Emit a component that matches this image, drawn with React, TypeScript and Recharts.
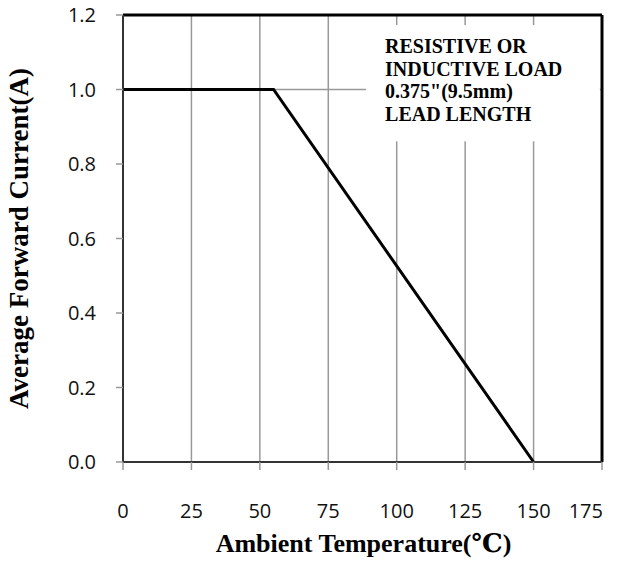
import React from "react";
import {
  ComposedChart,
  Line,
  XAxis,
  YAxis,
  CartesianGrid,
  ReferenceLine,
  ReferenceArea,
} from "recharts";

const temperature = [0, 55, 150];
const current = [1.0, 1.0, 0.0];
const xTicks = [0, 25, 50, 75, 100, 125, 150, 175];
const yTicks = [0, 0.2, 0.4, 0.6, 0.8, 1.0, 1.2];
const noteLines = ["RESISTIVE OR", "INDUCTIVE LOAD", "0.375\"(9.5mm)", "LEAD LENGTH"];
const xTitle = "Ambient Temperature(℃)";
const yTitle = "Average Forward Current(A)";

const data = temperature.map((t, i) => ({ t, a: current[i] }));

const noteLeft = 88.8;
const tickFont = "'Open Sans', 'DejaVu Sans', sans-serif";
const titleFont = "'Liberation Serif', 'DejaVu Serif', serif";

const XTick = (props: any) => {
  const { x, y, payload, index } = props;
  const last = index === xTicks.length - 1;
  return (
    <text
      x={last ? x + 1 : x}
      y={y + 46}
      textAnchor={last ? "end" : "middle"}
      fontFamily={tickFont}
      fontSize={20}
      fill="#111"
    >
      {payload.value}
    </text>
  );
};

const YTick = (props: any) => {
  const { x, y, payload } = props;
  return (
    <text x={x - 18} y={y} dy={7} textAnchor="end" fontFamily={tickFont} fontSize={20} fill="#111">
      {Number(payload.value).toFixed(1)}
    </text>
  );
};

const NoteBox = (props: any) => {
  const { x, y, width, height } = props;
  return (
    <g>
      <rect x={x} y={y} width={width} height={height} fill="#fff" stroke="none" />
      {noteLines.map((s, i) => (
        <text
          key={i}
          x={x + 19}
          y={y + 28 + i * 22.7}
          fontFamily={titleFont}
          fontWeight="bold"
          fontSize={20}
          fill="#000"
        >
          {s}
        </text>
      ))}
    </g>
  );
};

const XTitle = (props: any) => {
  const { viewBox } = props;
  const cx = viewBox.x + viewBox.width / 2;
  return (
    <text x={cx + 1} y={viewBox.y + viewBox.height - 11} textAnchor="middle" fontFamily={titleFont} fontWeight="bold" fontSize={26} fill="#000">
      {xTitle}
    </text>
  );
};

const YTitle = (props: any) => {
  const { viewBox } = props;
  const cx = viewBox.x + 28;
  const cy = viewBox.y + viewBox.height / 2;
  return (
    <text
      x={cx}
      y={cy}
      textAnchor="middle"
      transform={`rotate(-90 ${cx} ${cy})`}
      fontFamily={titleFont}
      fontWeight="bold"
      fontSize={27}
      fill="#000"
    >
      {yTitle}
    </text>
  );
};

export default function App() {
  return (
    <div style={{ position: "absolute", left: 0, top: 0, width: 621, height: 563 }}>
      <ComposedChart
        width={621}
        height={563}
        data={data}
        margin={{ top: 15, right: 19, bottom: 0, left: 0 }}
      >
        <CartesianGrid horizontal={false} vertical stroke="#999" strokeWidth={1.5} />
        <XAxis
          dataKey="t"
          type="number"
          domain={[0, 175]}
          ticks={xTicks}
          height={101}
          tickSize={8}
          tickLine={{ stroke: "#999", strokeWidth: 1.5 }}
          axisLine={{ stroke: "#333", strokeWidth: 2 }}
          tick={<XTick />}
          interval={0}
          label={<XTitle />}
        />
        <YAxis
          type="number"
          domain={[0, 1.2]}
          ticks={yTicks}
          width={123}
          tickSize={7}
          tickLine={{ stroke: "#999", strokeWidth: 1.5 }}
          axisLine={{ stroke: "#333", strokeWidth: 2 }}
          tick={<YTick />}
          interval={0}
          label={<YTitle />}
        />
        <ReferenceLine
          segment={[{ x: 0, y: 1.0 }, { x: noteLeft, y: 1.0 }]}
          stroke="#999"
          strokeWidth={1.5}
        />
        <ReferenceLine
          segment={[{ x: 174.2, y: 1.0 }, { x: 175, y: 1.0 }]}
          stroke="#999"
          strokeWidth={1.5}
        />
        <ReferenceArea x1={noteLeft} x2={174} y1={0.861} y2={1.173} shape={<NoteBox />} />
        <ReferenceLine y={1.2} stroke="#000" strokeWidth={3} />
        <ReferenceLine x={175} stroke="#000" strokeWidth={3} />
        <Line
          dataKey="a"
          type="linear"
          stroke="#000"
          strokeWidth={3}
          dot={false}
          isAnimationActive={false}
        />
      </ComposedChart>
    </div>
  );
}
